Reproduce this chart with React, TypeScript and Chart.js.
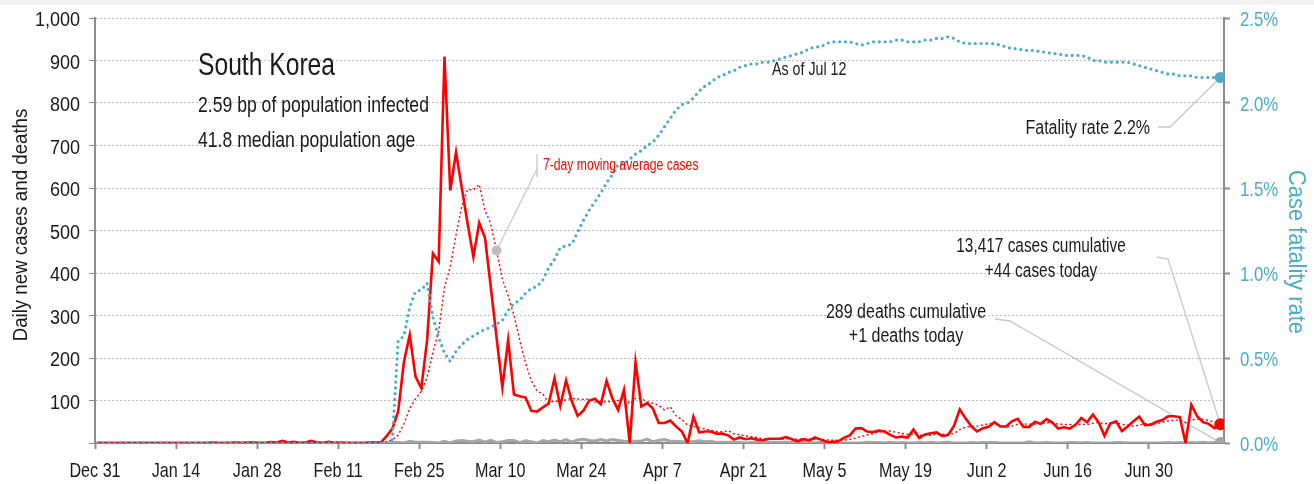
import React, { useEffect, useRef } from 'react';
import { Chart, registerables } from 'chart.js';

Chart.register(...registerables);

// No condensed face is installed, so text is drawn with Liberation Sans squeezed horizontally.
const SANS = "'Liberation Sans', Arial, sans-serif";
const BLUE = '#4bacc6';
const RED = '#ff0000';
const GRAY = '#a6a6a6';
const TEXT = '#1a1a1a';
const AXIS = '#8c8c8c';
const GRID = '#bdbdbd';
const LEADER = '#c8c8c8';

// data are reported at a fixed time of day, slightly after the midnight ticks
const REPORT_OFFSET = 0.36;

// x-axis ticks: days since Dec 31
const tickDays = [0, 14, 28, 42, 56, 70, 84, 98, 112, 126, 140, 154, 168, 182];
const tickLabels = ['Dec 31', 'Jan 14', 'Jan 28', 'Feb 11', 'Feb 25', 'Mar 10', 'Mar 24', 'Apr 7', 'Apr 21', 'May 5', 'May 19', 'Jun 2', 'Jun 16', 'Jun 30'];

// daily new cases, Dec 31 .. Jul 12
const dailyCases = [
  0, 0, 0, 0, 0, 0, 0, 0, 0, 0,
  0, 0, 0, 0, 0, 0, 0, 0, 0, 0,
  1, 0, 0, 0, 1, 0, 1, 1, 0, 0,
  2, 1, 5, 1, 3, 0, 1, 5, 1, 0,
  3, 0, 1, 0, 0, 0, 0, 1, 1, 1,
  16, 34, 74, 191, 254, 156, 129, 242, 446, 427,
  909, 594, 684, 600, 516, 438, 518, 483, 367, 248,
  131, 242, 114, 110, 107, 76, 74, 84, 93, 152,
  87, 147, 98, 64, 76, 100, 104, 91, 146, 105,
  78, 125, 0, 190, 86, 94, 81, 47, 47, 53,
  39, 27, 0, 62, 25, 27, 27, 22, 22, 18,
  8, 13, 9, 11, 8, 6, 10, 10, 10, 14,
  9, 4, 9, 6, 13, 8, 3, 2, 4, 12,
  18, 34, 35, 27, 26, 29, 27, 19, 13, 15,
  13, 32, 12, 20, 23, 25, 16, 19, 40, 79,
  58, 39, 27, 35, 38, 49, 39, 39, 51, 57,
  38, 38, 50, 45, 56, 48, 34, 37, 34, 43,
  59, 49, 67, 48, 17, 46, 51, 28, 39, 51,
  62, 42, 43, 50, 54, 63, 63, 61, 0, 90,
  63, 49, 45, 35, 44,
];

// daily new deaths
const dailyDeaths = [
  0, 0, 0, 0, 0, 0, 0, 0, 0, 0,
  0, 0, 0, 0, 0, 0, 0, 0, 0, 0,
  0, 0, 0, 0, 0, 0, 0, 0, 0, 0,
  0, 0, 0, 0, 0, 0, 0, 0, 0, 0,
  0, 0, 0, 0, 0, 0, 0, 0, 0, 0,
  0, 1, 1, 0, 4, 2, 2, 2, 1, 0,
  4, 0, 5, 6, 4, 3, 7, 2, 6, 1,
  3, 6, 6, 1, 5, 3, 0, 6, 3, 7,
  3, 8, 2, 7, 9, 6, 5, 8, 5, 8,
  6, 4, 3, 4, 5, 9, 3, 6, 8, 4,
  4, 3, 3, 3, 5, 3, 4, 1, 2, 2,
  2, 1, 0, 1, 2, 0, 2, 1, 1, 2,
  1, 0, 1, 2, 0, 2, 2, 1, 1, 0,
  0, 0, 0, 2, 1, 1, 0, 2, 0, 1,
  0, 0, 1, 0, 2, 0, 1, 2, 0, 0,
  0, 1, 0, 1, 1, 1, 0, 0, 0, 0,
  0, 3, 0, 0, 1, 0, 0, 0, 1, 1,
  0, 1, 0, 0, 0, 0, 1, 1, 0, 0,
  0, 0, 0, 0, 0, 1, 0, 1, 0, 1,
  0, 2, 0, 1, 1,
];

// case fatality rate, percent
const fatalityRatePct = [
  0, 0, 0, 0, 0, 0, 0, 0, 0, 0,
  0, 0, 0, 0, 0, 0, 0, 0, 0, 0,
  0, 0, 0, 0, 0, 0, 0, 0, 0, 0,
  0, 0, 0, 0, 0, 0, 0, 0, 0, 0,
  0, 0, 0, 0, 0, 0, 0, 0, 0, 0,
  0, 0.02, 0.60, 0.63, 0.80, 0.89, 0.90, 0.94, 0.74, 0.62,
  0.53, 0.48, 0.54, 0.58, 0.61, 0.63, 0.65, 0.67, 0.68, 0.70,
  0.72, 0.78, 0.82, 0.84, 0.88, 0.91, 0.92, 0.96, 1.03, 1.08,
  1.15, 1.16, 1.17, 1.24, 1.31, 1.37, 1.42, 1.47, 1.53, 1.58,
  1.64, 1.64, 1.67, 1.70, 1.72, 1.75, 1.77, 1.81, 1.86, 1.91,
  1.96, 1.99, 2.00, 2.03, 2.07, 2.10, 2.12, 2.15, 2.16, 2.18,
  2.19, 2.21, 2.22, 2.23, 2.23, 2.24, 2.24, 2.25, 2.26, 2.27,
  2.28, 2.29, 2.30, 2.32, 2.33, 2.33, 2.35, 2.36, 2.36, 2.36,
  2.36, 2.35, 2.34, 2.35, 2.36, 2.36, 2.36, 2.36, 2.37, 2.37,
  2.36, 2.36, 2.36, 2.37, 2.37, 2.38, 2.38, 2.39, 2.38, 2.36,
  2.35, 2.35, 2.35, 2.35, 2.35, 2.35, 2.34, 2.33, 2.32, 2.32,
  2.31, 2.31, 2.31, 2.30, 2.30, 2.29, 2.29, 2.28, 2.28, 2.28,
  2.28, 2.27, 2.25, 2.25, 2.24, 2.24, 2.24, 2.24, 2.24, 2.23,
  2.22, 2.21, 2.20, 2.19, 2.18, 2.17, 2.17, 2.16, 2.16, 2.16,
  2.15, 2.15, 2.15, 2.15, 2.15,
];

const MA_MARK_INDEX = 69;

// 7-day trailing moving average of the daily case series
const movingAverage7 = dailyCases.map((_, i) => {
  const w = dailyCases.slice(Math.max(0, i - 6), i + 1);
  return w.reduce((a, b) => a + b, 0) / w.length;
});

const toPoints = (arr: number[]) => arr.map((v, i) => ({ x: i + REPORT_OFFSET, y: v }));

function drawText(
  ctx: CanvasRenderingContext2D,
  text: string,
  x: number,
  y: number,
  size: number,
  sx: number,
  align: CanvasTextAlign,
  color: string,
  rotate = 0,
) {
  ctx.save();
  ctx.translate(x, y);
  if (rotate) ctx.rotate(rotate);
  ctx.scale(sx, 1);
  ctx.font = `${size}px ${SANS}`;
  ctx.fillStyle = color;
  ctx.textAlign = align;
  ctx.textBaseline = 'alphabetic';
  ctx.fillText(text, 0, 0);
  ctx.restore();
}

const annotationPlugin = {
  id: 'koreaAnnotations',
  beforeDraw(chart: any) {
    const { ctx } = chart;
    ctx.save();
    ctx.fillStyle = '#f2f2f2';
    ctx.fillRect(0, 0, chart.width, 5);
    ctx.restore();
  },
  beforeDatasetsDraw(chart: any) {
    const { ctx } = chart;
    const last = dailyCases.length - 1;
    const casesPt = chart.getDatasetMeta(0).data[last];
    const maPt = chart.getDatasetMeta(1).data[MA_MARK_INDEX];
    const deathsPt = chart.getDatasetMeta(2).data[last];
    const cfrPt = chart.getDatasetMeta(3).data[last];
    ctx.save();
    ctx.strokeStyle = LEADER;
    ctx.lineWidth = 1.3;
    ctx.setLineDash([]);
    ctx.beginPath();
    ctx.moveTo(537, 154);
    ctx.lineTo(537, 177);
    ctx.stroke();
    ctx.beginPath();
    ctx.moveTo(537, 169);
    ctx.lineTo(maPt.x, maPt.y);
    ctx.stroke();
    ctx.beginPath();
    ctx.moveTo(1158, 127);
    ctx.lineTo(1170, 127);
    ctx.lineTo(cfrPt.x, cfrPt.y);
    ctx.stroke();
    ctx.beginPath();
    ctx.moveTo(1157, 257);
    ctx.lineTo(1168, 259);
    ctx.lineTo(casesPt.x, casesPt.y);
    ctx.stroke();
    ctx.beginPath();
    ctx.moveTo(995, 319);
    ctx.lineTo(1010, 321);
    ctx.lineTo(deathsPt.x, deathsPt.y);
    ctx.stroke();
    ctx.restore();
  },
  afterDraw(chart: any) {
    const { ctx } = chart;
    const { x, y, y1 } = chart.scales;

    // axis tick labels, placed from the library's scales
    x.ticks.forEach((t: any, i: number) => {
      drawText(ctx, tickLabels[i], x.getPixelForValue(t.value), 477, 21, 0.77, 'center', TEXT);
    });
    y.ticks.forEach((t: any) => {
      if (t.value === 0) return;
      drawText(ctx, Number(t.value).toLocaleString('en-US'), 80, y.getPixelForValue(t.value) + 8, 20, 0.9, 'right', TEXT);
    });
    y1.ticks.forEach((t: any) => {
      drawText(ctx, `${Number(t.value).toFixed(1)}%`, 1240, y1.getPixelForValue(t.value) + 8, 21, 0.8, 'left', BLUE);
    });

    // axis titles
    drawText(ctx, 'Daily new cases and deaths', 27, 225, 21, 0.89, 'center', TEXT, -Math.PI / 2);
    drawText(ctx, 'Case fatality rate', 1289, 252, 23, 0.95, 'center', BLUE, Math.PI / 2);

    // annotations
    drawText(ctx, 'South Korea', 198, 75, 32, 0.77, 'left', TEXT);
    drawText(ctx, '2.59 bp of population infected', 198, 112, 22, 0.8, 'left', TEXT);
    drawText(ctx, '41.8 median population age', 198, 147, 22, 0.8, 'left', TEXT);
    drawText(ctx, 'As of Jul 12', 772, 75, 19, 0.75, 'left', TEXT);
    drawText(ctx, '7-day moving average cases', 543, 170, 16, 0.76, 'left', RED);
    drawText(ctx, 'Fatality rate 2.2%', 1150, 134, 20, 0.8, 'right', TEXT);
    drawText(ctx, '13,417 cases cumulative', 1041, 252, 20, 0.77, 'center', TEXT);
    drawText(ctx, '+44 cases today', 1041, 277, 20, 0.77, 'center', TEXT);
    drawText(ctx, '289 deaths cumulative', 906, 318, 20, 0.8, 'center', TEXT);
    drawText(ctx, '+1 deaths today', 906, 342, 20, 0.8, 'center', TEXT);
  },
};

export default function App() {
  const canvasRef = useRef<HTMLCanvasElement | null>(null);

  useEffect(() => {
    if (!canvasRef.current) return;
    const last = dailyCases.length - 1;
    const chart = new Chart(canvasRef.current, {
      type: 'line',
      data: {
        datasets: [
          {
            label: 'Daily new cases',
            data: toPoints(dailyCases),
            borderColor: RED,
            backgroundColor: RED,
            borderWidth: 2.6,
            pointRadius: (c: any) => (c.dataIndex === last ? 6 : 0),
            pointBorderWidth: 0,
            pointBackgroundColor: RED,
            tension: 0,
            yAxisID: 'y',
            order: 2,
          },
          {
            label: '7-day moving average cases',
            data: toPoints(movingAverage7),
            borderColor: RED,
            backgroundColor: RED,
            borderWidth: 1.4,
            borderDash: [2, 2.5],
            pointRadius: (c: any) => (c.dataIndex === MA_MARK_INDEX ? 5 : 0),
            pointBorderWidth: 0,
            pointBackgroundColor: '#bdbdbd',
            tension: 0,
            yAxisID: 'y',
            order: 3,
          },
          {
            label: 'Daily new deaths',
            data: toPoints(dailyDeaths),
            borderColor: GRAY,
            backgroundColor: GRAY,
            borderWidth: 3,
            pointRadius: (c: any) => (c.dataIndex === last ? 5.5 : 0),
            pointBorderWidth: 0,
            pointBackgroundColor: GRAY,
            tension: 0,
            yAxisID: 'y',
            order: 4,
          },
          {
            label: 'Case fatality rate',
            data: toPoints(fatalityRatePct),
            borderColor: BLUE,
            backgroundColor: BLUE,
            borderWidth: 3.2,
            borderDash: [0, 5.8],
            borderCapStyle: 'round',
            pointRadius: (c: any) => (c.dataIndex === last ? 5.5 : 0),
            pointBorderWidth: 0,
            pointBackgroundColor: BLUE,
            tension: 0,
            yAxisID: 'y1',
            order: 1,
          },
        ],
      },
      options: {
        animation: false,
        responsive: false,
        maintainAspectRatio: false,
        layout: { padding: { top: 18, left: 0, right: 0, bottom: 0 } },
        plugins: { legend: { display: false }, tooltip: { enabled: false } },
        scales: {
          x: {
            type: 'linear',
            min: 0,
            max: 195,
            afterBuildTicks: (s: any) => {
              s.ticks = tickDays.map((v) => ({ value: v }));
            },
            afterFit: (s: any) => {
              s.height = 41;
            },
            ticks: { display: false, autoSkip: false, maxRotation: 0 },
            grid: { drawOnChartArea: false, drawTicks: true, tickLength: 6, tickColor: AXIS, tickWidth: 2 },
            border: { display: true, color: AXIS, width: 2 },
          },
          y: {
            position: 'left',
            min: 0,
            max: 1000,
            afterFit: (s: any) => {
              s.width = 95;
            },
            ticks: { display: false, stepSize: 100 },
            grid: { color: GRID, lineWidth: 1, drawTicks: true, tickLength: 6, tickColor: AXIS, tickWidth: 1 },
            border: { display: true, color: AXIS, width: 2, dash: [2, 2] },
          },
          y1: {
            position: 'right',
            min: 0,
            max: 2.5,
            afterFit: (s: any) => {
              s.width = 90;
            },
            ticks: { display: false, stepSize: 0.5 },
            grid: { drawOnChartArea: false, drawTicks: true, tickLength: 6, tickColor: AXIS, tickWidth: 2 },
            border: { display: true, color: AXIS, width: 2 },
          },
        },
      },
      plugins: [annotationPlugin],
    } as any);
    return () => chart.destroy();
  }, []);

  return (
    <div style={{ position: 'fixed', left: 0, top: 0, width: 1314, height: 484, background: '#ffffff' }}>
      <canvas ref={canvasRef} width={1314} height={484} style={{ width: 1314, height: 484, display: 'block' }} />
    </div>
  );
}
